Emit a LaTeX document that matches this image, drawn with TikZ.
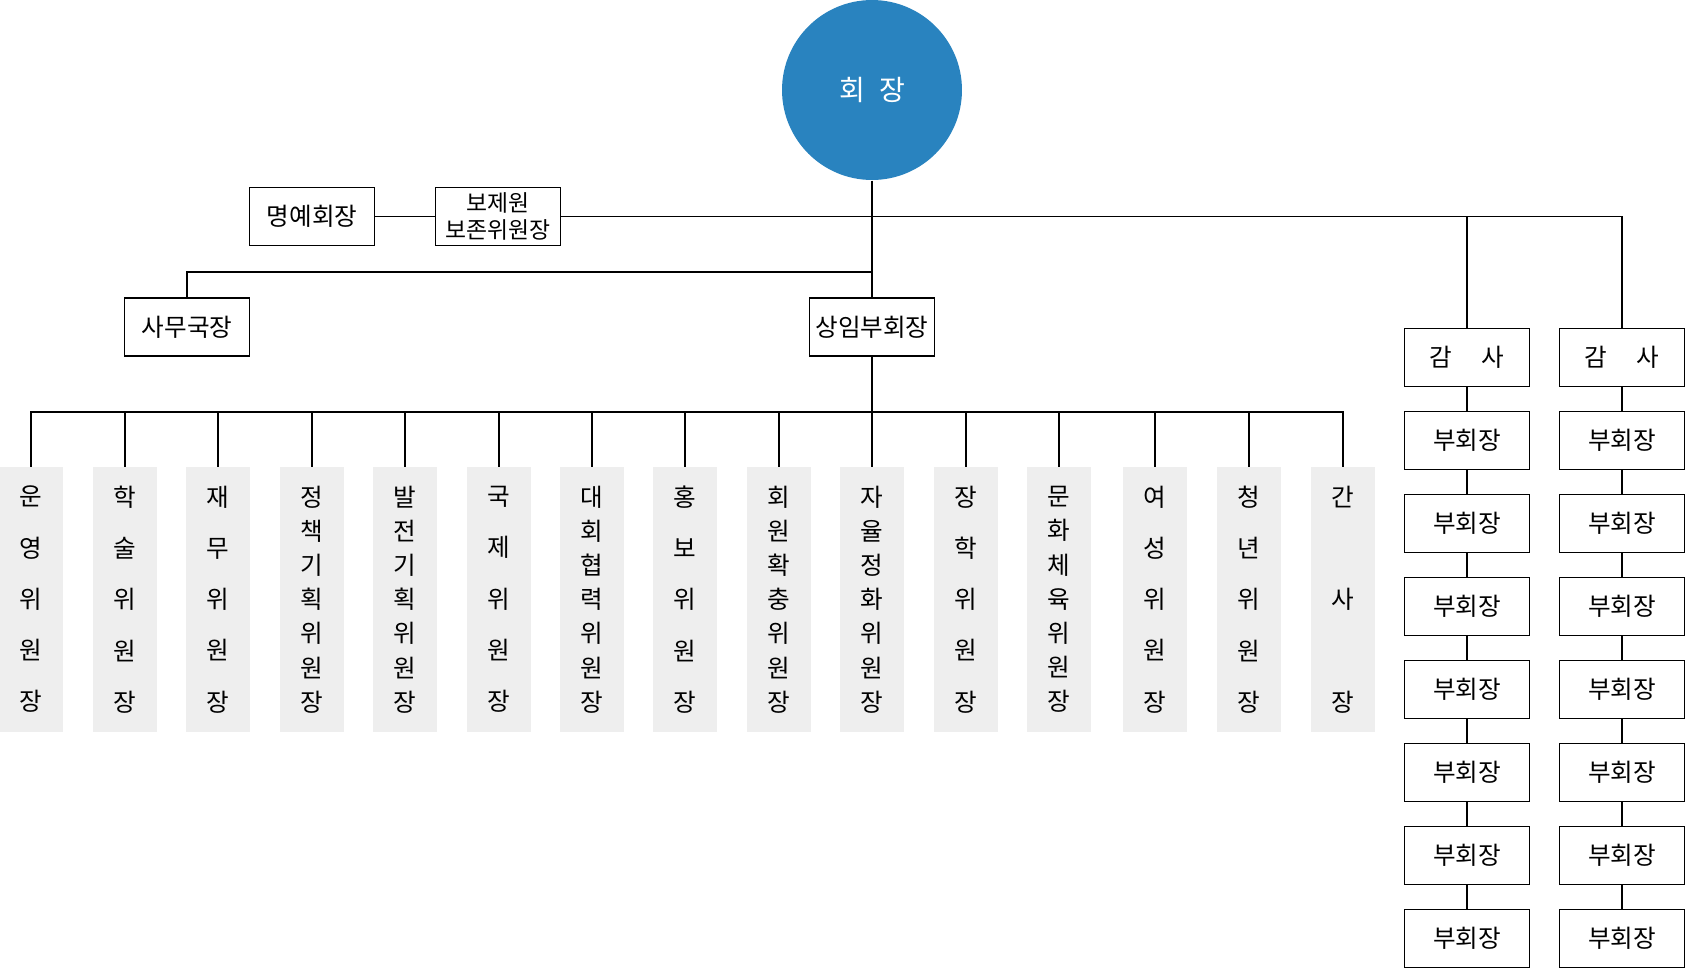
\documentclass[tikz,border=0pt]{standalone}
\usepackage{fontspec}
\setmainfont{Noto Sans CJK KR}
\usepackage{tikz}
\usetikzlibrary{positioning}

\definecolor{chiefblue}{RGB}{41,131,191}
\definecolor{boardgray}{RGB}{238,238,238}

\begin{document}
\begin{tikzpicture}[%show background rectangle,
        x=0.02cm, y=-0.02cm, % Pixelraster, y nach unten
        line width=0.7pt,
        font=\fontsize{14}{15.4}\selectfont,
        office/.style={draw, rectangle, minimum width=2.5cm, minimum height=1.16cm,
            inner sep=0pt, outer sep=0pt, align=center},
        board/.style={rectangle, fill=boardgray, minimum width=1.28cm, minimum height=5.3cm,
            inner sep=0pt, outer sep=0pt, align=center, font=\fontsize{14}{#1}\selectfont},
        node distance=0.5cm
        ]
            \useasboundingbox (0,0) rectangle (1685,968);

            % Spitze
            \node [circle, fill=chiefblue, minimum size=3.6cm, text=white,
                   font=\fontsize{16}{18}\selectfont] (chief) at (872,90) {회\hspace{0.5em}장};

            \node [office] (hon)  at (312,216.5) {명예회장};
            \node [office, font=\fontsize{13}{15.4}\selectfont] (pres) at (498,216.5) {보제원\\보존위원장};
            \node [office] (sec)  at (187,327)   {사무국장};
            \node [office] (exec) at (872,327)   {상임부회장};

            % Audit, Vizepraesidenten
            \node [office] (aud1) at (1467,357.3) {감\hspace{1.2em}사};
            \node [office] (aud2) at (1622,357.3) {감\hspace{1.2em}사};
            \foreach \a in {1,2}{
                \node [office, below=of aud\a] (vice\a-1) {부회장};
                \draw (aud\a) -- (vice\a-1);
                \foreach \k [count=\j from 1] in {2,...,7}{
                    \node [office, below=of vice\a-\j] (vice\a-\k) {부회장};
                    \draw (vice\a-\j) -- (vice\a-\k);
                }
            }

            % Leitungen oben
            \coordinate (topbar) at (pres.east -| aud1.north);
            \coordinate (secbar) at (872,272);
            \coordinate (combar) at (872,412);
            \draw   (chief) -- (exec)
                    (hon) -- (pres)
                    (pres.east) -| (aud2.north)
                    (topbar) -- (aud1.north)
                    (secbar) -| (sec.north)
                    (exec) -- (combar);

            % Ausschuesse
            \foreach \x/\sk/\txt [count=\i] in {
                    31/1.025cm/{운\\영\\위\\원\\장},
                    125/1.025cm/{학\\술\\위\\원\\장},
                    218/1.025cm/{재\\무\\위\\원\\장},
                    312/0.683cm/{정\\책\\기\\획\\위\\원\\장},
                    405/0.683cm/{발\\전\\기\\획\\위\\원\\장},
                    499/1.025cm/{국\\제\\위\\원\\장},
                    592/0.683cm/{대\\회\\협\\력\\위\\원\\장},
                    685/1.025cm/{홍\\보\\위\\원\\장},
                    779/0.683cm/{회\\원\\확\\충\\위\\원\\장},
                    872/0.683cm/{자\\율\\정\\화\\위\\원\\장},
                    966/1.025cm/{장\\학\\위\\원\\장},
                    1059/0.683cm/{문\\화\\체\\육\\위\\원\\장},
                    1155/1.025cm/{여\\성\\위\\원\\장},
                    1249/1.025cm/{청\\년\\위\\원\\장},
                    1343/2.05cm/{간\\사\\장}}{
                \node [board=\sk, anchor=north] (com\i) at (\x,467) {\txt};
                \draw (combar) -| (com\i.north);
            }

        \end{tikzpicture}
\end{document}
